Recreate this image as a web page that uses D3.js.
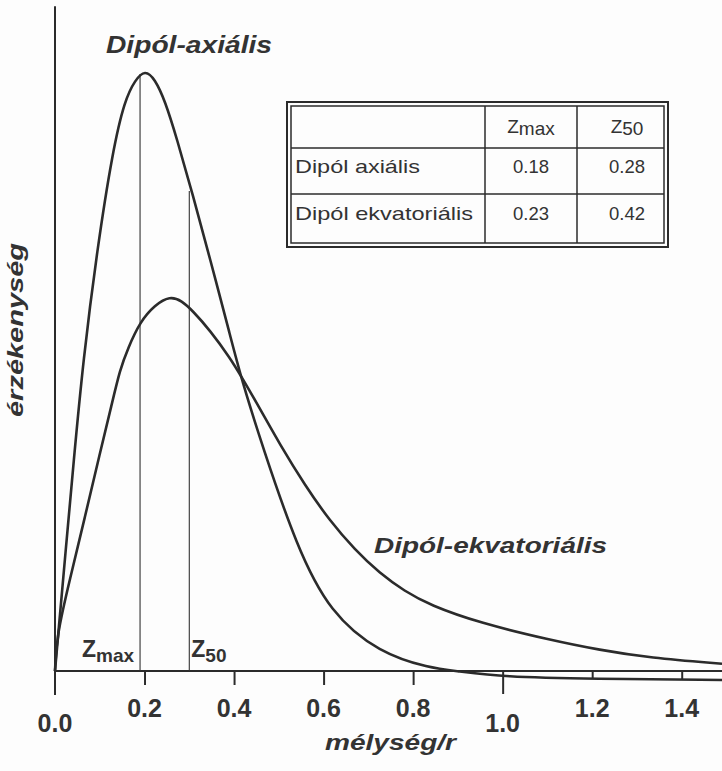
<!DOCTYPE html>
<html>
<head>
<meta charset="utf-8">
<script src="https://cdn.jsdelivr.net/npm/d3@7"></script>
<style>
  body { margin: 0; background: #fdfdfd; }
  svg { display: block; font-family: "Liberation Sans", Arial, sans-serif; }
  .curve { fill: none; stroke: #2b2b2b; stroke-width: 2.6; }
  .marker { stroke: #333; stroke-width: 1.1; }
  .axisline { stroke: #2b2b2b; stroke-width: 2; }
  .grid { stroke: #2b2b2b; fill: none; }
</style>
</head>
<body>
<svg width="722" height="771"></svg>
<script>
// depth / r values and relative sensitivity
var axialDepth = [0, 0.011, 0.022, 0.042, 0.063, 0.094, 0.129, 0.156, 0.179, 0.201, 0.223, 0.246, 0.272, 0.308, 0.346, 0.391, 0.417, 0.464, 0.540, 0.614, 0.725, 0.837, 0.897, 1.0, 1.2, 1.49];
var axialSens  = [0, 0.093, 0.185, 0.352, 0.518, 0.702, 0.868, 0.952, 0.985, 1.002, 0.987, 0.950, 0.888, 0.793, 0.688, 0.560, 0.485, 0.373, 0.207, 0.097, 0.030, 0.005, 0, -0.010, -0.013, -0.015];

var equDepth = [0, 0.004, 0.033, 0.067, 0.100, 0.127, 0.145, 0.163, 0.190, 0.223, 0.257, 0.283, 0.308, 0.346, 0.391, 0.417, 0.458, 0.502, 0.558, 0.614, 0.670, 0.725, 0.781, 0.837, 0.949, 1.105, 1.217, 1.328, 1.49];
var equSens  = [0, 0.060, 0.152, 0.257, 0.362, 0.445, 0.502, 0.538, 0.582, 0.610, 0.625, 0.617, 0.600, 0.568, 0.522, 0.490, 0.437, 0.378, 0.310, 0.250, 0.202, 0.163, 0.133, 0.110, 0.080, 0.052, 0.035, 0.022, 0.012];

var xTicks = [0, 0.2, 0.4, 0.6, 0.8, 1.0, 1.2, 1.4];
var xTicksLow = [0, 1.0];     // labels set lower
var xTicksShort = [1.2, 1.4]; // short tick marks

// vertical markers on the axial curve
var markerDepth = [0.19, 0.30];
var markerTop = [0.995, 0.80];
var markerSub = ['max', '50'];

// table
var tableHeader = ['', 'Zmax', 'Z50'];
var tableRows = ['Dipól axiális', 'Dipól ekvatoriális'];
var zmaxValues = ['0.18', '0.23'];
var z50Values = ['0.28', '0.42'];

var svg = d3.select('svg');
var ink = '#2b2b2b';
var textInk = '#333';

var x = d3.scaleLinear().domain([0, 1.49]).range([55, 722]);
var y = d3.scaleLinear().domain([0, 1]).range([671, 71]);

// axes
svg.append('line').attr('class', 'axisline')
    .attr('x1', x(0)).attr('x2', x(1.49)).attr('y1', y(0)).attr('y2', y(0));
svg.append('line').attr('class', 'axisline')
    .attr('x1', x(0)).attr('x2', x(0)).attr('y1', y(1.108)).attr('y2', y(0) + 24);

var xAxis = d3.axisBottom(x)
    .tickValues(xTicks.slice(1))
    .tickSize(14)
    .tickPadding(0)
    .tickFormat(d3.format('.1f'));

var axG = svg.append('g')
    .attr('transform', 'translate(0,' + y(0) + ')')
    .call(xAxis);
axG.select('.domain').remove();
axG.selectAll('.tick text').remove();
axG.selectAll('.tick line')
    .attr('stroke', ink).attr('stroke-width', 2)
    .attr('y2', function(d) {
        if (xTicksShort.indexOf(d) >= 0) return 8;
        if (xTicksLow.indexOf(d) >= 0) return 23;
        return 14;
    });

// tick labels (0.0 included)
svg.append('g').selectAll('text')
    .data(xTicks)
    .enter()
    .append('text')
    .attr('x', function(d) { return x(d); })
    .attr('y', function(d) { return xTicksLow.indexOf(d) >= 0 ? 732 : 717; })
    .attr('text-anchor', 'middle')
    .attr('font-size', 25)
    .attr('font-weight', 'bold')
    .attr('fill', textInk)
    .text(d3.format('.1f'));

// axis titles
svg.append('text')
    .attr('x', 325).attr('y', 750)
    .attr('font-size', 22).attr('font-weight', 'bold').attr('font-style', 'italic')
    .attr('fill', textInk)
    .attr('textLength', 131).attr('lengthAdjust', 'spacingAndGlyphs')
    .text('mélység/r');

svg.append('text')
    .attr('transform', 'translate(23,417) rotate(-90)')
    .attr('font-size', 22).attr('font-weight', 'bold').attr('font-style', 'italic')
    .attr('fill', textInk)
    .attr('textLength', 174).attr('lengthAdjust', 'spacingAndGlyphs')
    .text('érzékenység');

// markers
svg.append('g').selectAll('line')
    .data(markerDepth)
    .enter()
    .append('line')
    .attr('class', 'marker')
    .attr('x1', function(d) { return x(d); })
    .attr('x2', function(d) { return x(d); })
    .attr('y1', y(0))
    .attr('y2', function(d, i) { return y(markerTop[i]); });

var mLab = svg.append('g').selectAll('text')
    .data(markerDepth)
    .enter()
    .append('text')
    .attr('x', function(d, i) { return i === 0 ? x(d) - 6 : x(d) + 2; })
    .attr('y', 657)
    .attr('text-anchor', function(d, i) { return i === 0 ? 'end' : 'start'; })
    .attr('font-size', 23).attr('font-weight', 'bold')
    .attr('fill', textInk);
mLab.append('tspan').text('Z');
mLab.append('tspan')
    .attr('font-size', 19).attr('dy', 5)
    .text(function(d, i) { return markerSub[i]; });

// curves
var line = d3.line()
    .x(function(d) { return x(d[0]); })
    .y(function(d) { return y(d[1]); })
    .curve(d3.curveBasis);

svg.append('path').attr('class', 'curve')
    .attr('d', line(d3.zip(axialDepth, axialSens)));
svg.append('path').attr('class', 'curve')
    .attr('d', line(d3.zip(equDepth, equSens)));

// curve labels
svg.append('text')
    .attr('x', 106).attr('y', 53)
    .attr('font-size', 23).attr('font-weight', 'bold').attr('font-style', 'italic')
    .attr('fill', textInk)
    .attr('textLength', 166).attr('lengthAdjust', 'spacingAndGlyphs')
    .text('Dipól-axiális');

svg.append('text')
    .attr('x', 374).attr('y', 553)
    .attr('font-size', 22).attr('font-weight', 'bold').attr('font-style', 'italic')
    .attr('fill', textInk)
    .attr('textLength', 233).attr('lengthAdjust', 'spacingAndGlyphs')
    .text('Dipól-ekvatoriális');

// table box
var colEdges = [291, 485, 577, 664];
var rowEdges = [106, 148, 194, 243];
var tab = svg.append('g');
tab.append('rect').attr('class', 'grid')
    .attr('x', 287).attr('y', 102).attr('width', 381).attr('height', 145)
    .attr('stroke-width', 2);
tab.append('rect').attr('class', 'grid')
    .attr('x', colEdges[0]).attr('y', rowEdges[0])
    .attr('width', colEdges[3] - colEdges[0]).attr('height', rowEdges[3] - rowEdges[0])
    .attr('stroke-width', 1.5);
tab.selectAll('.cdiv')
    .data(colEdges.slice(1, 3))
    .enter().append('line').attr('class', 'grid')
    .attr('stroke-width', 1.5)
    .attr('x1', function(d) { return d; }).attr('x2', function(d) { return d; })
    .attr('y1', rowEdges[0]).attr('y2', rowEdges[3]);
tab.selectAll('.rdiv')
    .data(rowEdges.slice(1, 3))
    .enter().append('line').attr('class', 'grid')
    .attr('stroke-width', 1.5)
    .attr('x1', colEdges[0]).attr('x2', colEdges[3])
    .attr('y1', function(d) { return d; }).attr('y2', function(d) { return d; });

var colMid = [531, 627];
var hdr = tab.selectAll('.hdr')
    .data(tableHeader.slice(1))
    .enter().append('text')
    .attr('x', function(d, i) { return colMid[i]; })
    .attr('y', 133)
    .attr('text-anchor', 'middle')
    .attr('font-size', 19)
    .attr('fill', textInk);
hdr.append('tspan').text(function(d) { return d.charAt(0); });
hdr.append('tspan').attr('dy', 1.5).text(function(d) { return d.slice(1); });

var rowBase = [173, 220];
var rowTextLen = [125, 178];
tab.selectAll('.rowlab')
    .data(tableRows)
    .enter().append('text')
    .attr('x', 295)
    .attr('y', function(d, i) { return rowBase[i]; })
    .attr('font-size', 18.5)
    .attr('fill', textInk)
    .attr('textLength', function(d, i) { return rowTextLen[i]; })
    .attr('lengthAdjust', 'spacingAndGlyphs')
    .text(function(d) { return d; });

[zmaxValues, z50Values].forEach(function(vals, c) {
    tab.selectAll('.val' + c)
        .data(vals)
        .enter().append('text')
        .attr('x', colMid[c])
        .attr('y', function(d, i) { return rowBase[i]; })
        .attr('text-anchor', 'middle')
        .attr('font-size', 18.5)
        .attr('fill', textInk)
        .text(function(d) { return d; });
});
</script>
</body>
</html>
